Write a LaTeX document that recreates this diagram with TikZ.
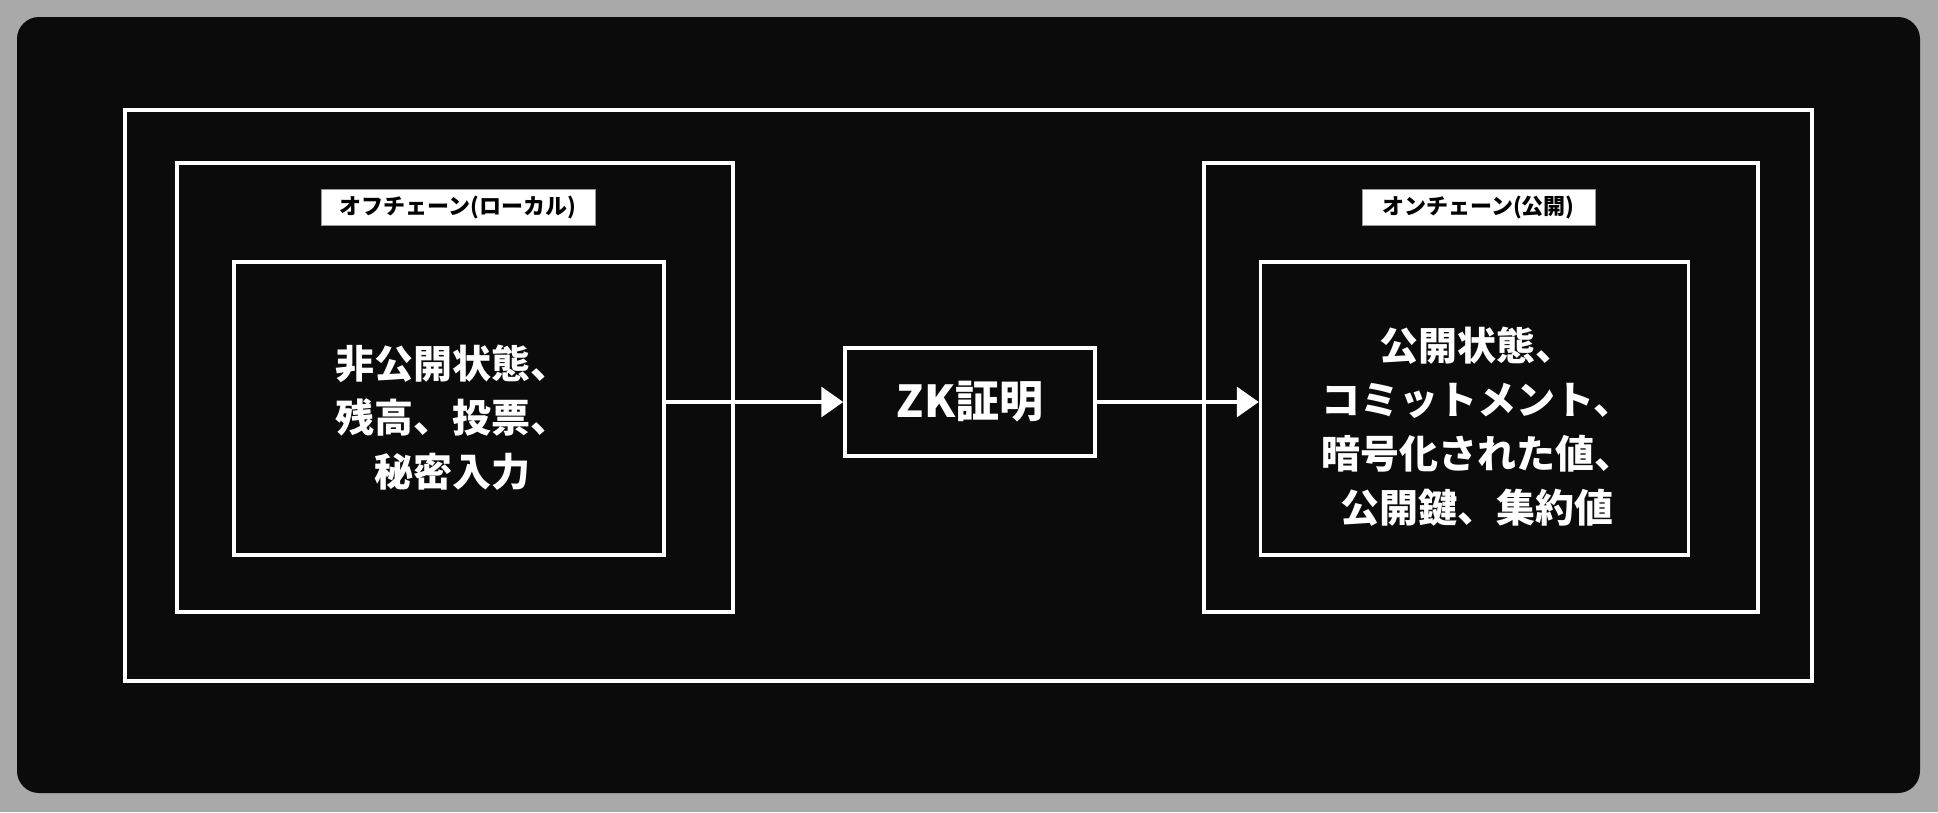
\documentclass[tikz,border=0pt]{standalone}
\usepackage{fontspec}
\setmainfont{Noto Sans CJK JP}
\usetikzlibrary{arrows.meta}
\definecolor{bggrey}{HTML}{A9A9A9}
\definecolor{panel}{HTML}{0B0B0B}
\tikzset{
  wbox/.style={draw=white, line width=3.5pt, rectangle, inner sep=0pt},
  tag/.style={fill=white, draw=black!40, line width=0.8pt, rectangle, inner sep=0pt, text=black, font=\bfseries\fontsize{22}{26}\selectfont},
  bigtext/.style={text=white, align=center, font=\bfseries\fontsize{39}{54}\selectfont},
  conn/.style={draw=white, line width=3.5pt, -{Triangle[length=22pt,width=30pt]}}
}
\begin{document}
\begin{tikzpicture}[x=1pt,y=-1pt]
\useasboundingbox (0,0) rectangle (1938,812);
\fill[bggrey] (0,0) rectangle (1938,812);
\fill[panel, rounded corners=22pt] (17,17) rectangle (1920,793);
\node[wbox, minimum width=1687pt, minimum height=571pt] (outer) at (968.5,395.5) {};
\node[wbox, minimum width=556pt, minimum height=449pt] (lmid) at (455,387.5) {};
\node[wbox, minimum width=430pt, minimum height=293pt] (lin) at (449,408.5) {};
\node[wbox, minimum width=554pt, minimum height=449pt] (rmid) at (1481,387.5) {};
\node[wbox, minimum width=428pt, minimum height=293pt] (rin) at (1474.5,408.5) {};
\node[wbox, minimum width=250pt, minimum height=108pt, text=white, font=\bfseries\fontsize{44}{50}\selectfont] (zk) at (970,402) {ZK証明};
\node[tag, minimum width=274pt, minimum height=36pt] (ltag) at (458,207) {オフチェーン(ローカル)};
\node[tag, minimum width=233pt, minimum height=36pt] (rtag) at (1478.5,207) {オンチェーン(公開)};
\node[bigtext] (ltext) at (452,418) {非公開状態、\\残高、投票、\\秘密入力};
\node[bigtext] (rtext) at (1477,427) {公開状態、\\コミットメント、\\暗号化された値、\\公開鍵、集約値};
\draw[conn] (lin.east |- zk.west) -- (zk.west);
\draw[conn] (zk.east) -- (zk.east -| rin.west);
\end{tikzpicture}
\end{document}
